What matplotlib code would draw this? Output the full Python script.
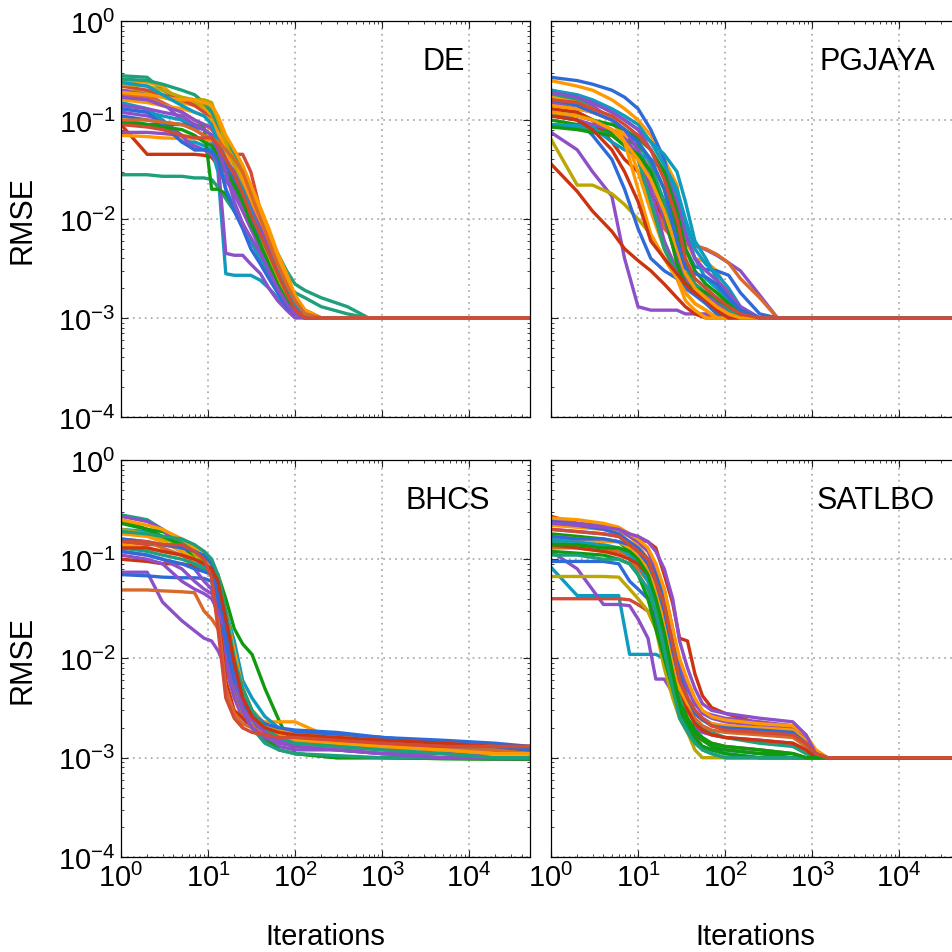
import matplotlib.pyplot as plt
from matplotlib.ticker import LogLocator, NullFormatter

plt.rcParams['font.family'] = ['Liberation Sans', 'DejaVu Sans']
plt.rcParams['mathtext.fontset'] = 'custom'
plt.rcParams['mathtext.rm'] = 'Liberation Sans'
plt.rcParams['mathtext.it'] = 'Liberation Sans:italic'
plt.rcParams['mathtext.bf'] = 'Liberation Sans:bold'

# --- data (iteration grid per panel, one row per run) ---
de_iter = [1, 2, 3, 5, 7, 9, 11, 13, 16, 20, 25, 31, 40, 50, 63, 80, 100, 130, 200, 400, 700, 50000]
de_rmse = [
    [.28, .27, .2, .16, .15, .14, .12, .08, .05, .04, .03, .02, .012, .007, .004, .0025, .0016, .0012, .001, .001, .001, .001],
    [.25, .24, .22, .15, .14, .13, .11, .08, .06, .045, .03, .018, .01, .006, .0035, .0022, .0015, .0012, .001, .001, .001, .001],
    [.2, .19, .17, .15, .15, .14, .13, .09, .06, .04, .025, .015, .009, .005, .003, .0018, .0012, .001, .001, .001, .001, .001],
    [.09, .045, .045, .045, .045, .044, .042, .035, .03, .025, .016, .01, .006, .004, .0025, .0017, .0013, .0011, .001, .001, .001, .001],
    [.028, .028, .027, .027, .026, .026, .025, .021, .016, .012, .009, .006, .004, .003, .0024, .002, .0018, .0016, .0013, .0011, .001, .001],
    [.12, .11, .1, .07, .055, .05, .045, .035, .025, .018, .012, .008, .005, .0035, .0025, .0017, .0012, .001, .001, .001, .001, .001],
    [.15, .13, .1, .06, .06, .055, .05, .03, .0028, .0027, .0027, .0027, .0024, .002, .0016, .0013, .0011, .001, .001, .001, .001, .001],
    [.2, .18, .15, .1, .08, .07, .06, .04, .0045, .0043, .0043, .0035, .0028, .002, .0015, .0012, .001, .001, .001, .001, .001, .001],
    [.1, .09, .09, .09, .09, .085, .02, .02, .018, .013, .009, .006, .004, .003, .002, .0015, .0012, .001, .001, .001, .001, .001],
    [.18, .17, .15, .12, .1, .09, .08, .065, .05, .035, .022, .014, .008, .005, .003, .002, .0014, .0011, .001, .001, .001, .001],
    [.07, .068, .066, .065, .065, .064, .062, .055, .045, .035, .025, .016, .009, .006, .0035, .0022, .0015, .0011, .001, .001, .001, .001],
    [.13, .12, .11, .1, .09, .08, .07, .045, .02, .013, .009, .006, .004, .0028, .002, .0014, .0011, .001, .001, .001, .001, .001],
    [.075, .075, .073, .07, .05, .05, .045, .038, .03, .02, .014, .01, .007, .0045, .003, .002, .0013, .001, .001, .001, .001, .001],
    [.22, .2, .18, .16, .14, .12, .1, .085, .065, .045, .045, .03, .012, .006, .0035, .0022, .0014, .0011, .001, .001, .001, .001],
    [.26, .25, .23, .2, .18, .15, .12, .09, .065, .045, .03, .02, .012, .007, .0045, .003, .0022, .0019, .0016, .0013, .001, .001],
    [.11, .1, .095, .09, .085, .08, .07, .05, .035, .025, .016, .01, .006, .004, .0025, .0017, .0012, .001, .001, .001, .001, .001],
    [.16, .15, .14, .13, .12, .11, .1, .075, .055, .04, .03, .02, .011, .007, .004, .0025, .0016, .0012, .001, .001, .001, .001],
    [.23, .22, .2, .17, .16, .16, .15, .1, .06, .035, .02, .012, .007, .004, .0025, .0015, .0011, .001, .001, .001, .001, .001],
    [.17, .16, .14, .12, .1, .09, .085, .06, .04, .03, .02, .013, .008, .005, .003, .0019, .0013, .001, .001, .001, .001, .001],
    [.19, .18, .17, .16, .16, .15, .14, .11, .07, .05, .035, .022, .013, .008, .0045, .0028, .0017, .0012, .001, .001, .001, .001],
    [.13, .12, .09, .06, .05, .05, .048, .04, .02, .012, .008, .005, .0035, .0025, .0018, .0013, .0011, .001, .001, .001, .001, .001],
    [.095, .09, .085, .08, .07, .06, .055, .045, .03, .022, .015, .009, .0055, .0035, .0022, .0015, .0011, .001, .001, .001, .001, .001],
    [.14, .13, .12, .11, .09, .08, .07, .05, .03, .015, .009, .0065, .0045, .003, .002, .0014, .0011, .001, .001, .001, .001, .001],
    [.24, .22, .18, .14, .12, .11, .09, .06, .04, .028, .02, .012, .007, .0045, .003, .002, .0014, .0011, .001, .001, .001, .001],
    [.1, .1, .095, .09, .08, .07, .065, .06, .05, .04, .03, .018, .01, .006, .0035, .0022, .0015, .0011, .001, .001, .001, .001],
    [.09, .085, .08, .07, .066, .066, .066, .055, .04, .028, .018, .011, .007, .0045, .0028, .0018, .0012, .001, .001, .001, .001, .001],
]
de_colors = "toyrtpcpgnocpetboypobgpcne"

pg_iter = [1, 2, 3, 5, 7, 10, 14, 20, 28, 35, 45, 60, 80, 110, 150, 250, 400, 50000]
pg_rmse = [
    [.25, .22, .2, .16, .13, .1, .07, .04, .022, .006, .004, .0037, .003, .0018, .001, .001, .001, .001],
    [.2, .17, .14, .1, .08, .05, .03, .015, .0063, .006, .0055, .0049, .0043, .0036, .003, .0017, .001, .001],
    [.13, .12, .1, .08, .06, .04, .02, .008, .0058, .0056, .0053, .005, .0044, .0036, .0025, .0016, .001, .001],
    [.075, .05, .03, .017, .004, .0013, .0012, .0012, .0012, .0011, .0011, .0011, .001, .001, .001, .001, .001, .001],
    [.036, .019, .012, .0075, .005, .0038, .003, .0022, .0016, .0013, .0011, .001, .001, .001, .001, .001, .001, .001],
    [.064, .022, .022, .018, .014, .01, .007, .004, .0025, .0018, .0014, .0012, .001, .001, .001, .001, .001, .001],
    [.27, .25, .23, .2, .17, .13, .08, .04, .012, .005, .0033, .0031, .003, .0027, .0018, .0011, .001, .001],
    [.2, .17, .15, .12, .1, .08, .06, .045, .03, .015, .006, .004, .0025, .0016, .0012, .001, .001, .001],
    [.1, .09, .085, .075, .065, .055, .04, .02, .008, .0035, .0022, .0018, .0015, .0012, .001, .001, .001, .001],
    [.18, .16, .13, .1, .08, .06, .035, .015, .005, .003, .0022, .0018, .0014, .0012, .001, .001, .001, .001],
    [.13, .12, .1, .06, .04, .03, .018, .01, .004, .0025, .0018, .0015, .0013, .0011, .001, .001, .001, .001],
    [.15, .13, .12, .1, .08, .05, .02, .006, .003, .0022, .0018, .0015, .0012, .001, .001, .001, .001, .001],
    [.14, .13, .12, .1, .07, .03, .012, .005, .0025, .0015, .0012, .001, .001, .001, .001, .001, .001, .001],
    [.12, .1, .07, .04, .02, .008, .004, .003, .0025, .002, .0017, .0014, .0011, .001, .001, .001, .001, .001],
    [.09, .085, .08, .07, .06, .04, .015, .005, .0028, .0022, .0018, .0016, .0013, .0011, .001, .001, .001, .001],
    [.11, .1, .09, .08, .065, .045, .025, .01, .004, .0025, .002, .0017, .0014, .0011, .001, .001, .001, .001],
    [.09, .088, .085, .06, .05, .045, .04, .03, .018, .008, .004, .0025, .002, .0015, .0011, .001, .001, .001],
    [.085, .08, .075, .07, .055, .045, .03, .012, .0035, .0022, .002, .0018, .0016, .0013, .0011, .001, .001, .001],
    [.17, .15, .13, .1, .06, .02, .007, .004, .0025, .0018, .0014, .0012, .001, .001, .001, .001, .001, .001],
    [.2, .18, .16, .13, .11, .09, .06, .035, .02, .01, .005, .0035, .0028, .002, .0013, .001, .001, .001],
    [.19, .17, .15, .12, .1, .08, .05, .03, .015, .007, .004, .003, .0024, .0018, .0013, .001, .001, .001],
    [.12, .11, .1, .09, .08, .065, .05, .03, .012, .005, .003, .0022, .0018, .0014, .0011, .001, .001, .001],
    [.11, .1, .08, .05, .03, .015, .006, .004, .0028, .0022, .0018, .0015, .0012, .001, .001, .001, .001, .001],
    [.12, .11, .1, .08, .06, .04, .025, .012, .005, .0028, .002, .0016, .0013, .0011, .001, .001, .001, .001],
    [.16, .14, .12, .1, .08, .06, .04, .02, .006, .0032, .0028, .0026, .0022, .0016, .0012, .001, .001, .001],
    [.16, .15, .13, .11, .09, .07, .05, .025, .01, .004, .0025, .002, .0016, .0013, .0011, .001, .001, .001],
]
pg_colors = "opnpryb" + "cgtrpobtpcgo" + "cpgrob" + "e"

bh_iter = [1, 2, 3, 5, 7, 9, 11, 13, 16, 20, 25, 32, 45, 65, 100, 300, 1000, 5000, 20000, 50000]
bh_rmse = [
    [.15, .14, .14, .13, .12, .1, .07, .03, .01, .005, .003, .0025, .002, .0018, .0017, .0016, .0015, .0014, .0013, .0013],
    [.074, .074, .037, .024, .019, .016, .015, .012, .008, .004, .0025, .002, .0017, .0015, .0014, .0013, .0012, .0011, .0011, .0011],
    [.049, .049, .048, .047, .046, .03, .025, .02, .01, .005, .0028, .0022, .0019, .0017, .0015, .0014, .0013, .0012, .0012, .0012],
    [.25, .2, .19, .15, .12, .09, .08, .07, .04, .02, .014, .011, .005, .0024, .0011, .001, .001, .00098, .00097, .00097],
    [.28, .25, .2, .15, .12, .1, .08, .04, .015, .007, .004, .003, .0022, .0019, .0018, .0017, .0016, .0014, .0012, .0011],
    [.07, .068, .066, .065, .065, .064, .06, .03, .012, .006, .0035, .0025, .002, .0018, .0017, .0016, .0015, .0013, .0012, .0012],
    [.14, .13, .12, .11, .1, .09, .075, .035, .02, .008, .004, .0023, .0023, .0023, .0023, .0015, .0013, .0012, .0011, .0011],
    [.27, .24, .2, .12, .08, .06, .05, .025, .01, .005, .003, .002, .0015, .0013, .0012, .0012, .0011, .0011, .001, .001],
    [.1, .095, .09, .09, .085, .08, .07, .03, .006, .003, .0025, .002, .0018, .0016, .0015, .0014, .0013, .0013, .0012, .0012],
    [.2, .19, .15, .12, .1, .085, .08, .06, .03, .015, .006, .004, .0026, .002, .0018, .0016, .0014, .0013, .0012, .0011],
    [.2, .18, .16, .14, .11, .1, .09, .05, .02, .006, .0032, .0025, .002, .0017, .0015, .0014, .0013, .0012, .0011, .0011],
    [.23, .2, .17, .14, .1, .09, .085, .05, .02, .008, .004, .0025, .0016, .0012, .0011, .001, .001, .00098, .00097, .00096],
    [.16, .15, .13, .11, .09, .08, .07, .025, .005, .0028, .0022, .002, .0018, .0016, .0015, .0014, .0013, .0012, .0012, .0011],
    [.12, .11, .1, .08, .06, .05, .045, .035, .015, .006, .0035, .0024, .0018, .0015, .0013, .0012, .0011, .001, .001, .001],
    [.13, .12, .11, .1, .09, .08, .07, .045, .02, .007, .003, .002, .0014, .0012, .0011, .00105, .001, .001, .001, .001],
    [.12, .11, .1, .09, .08, .075, .07, .04, .015, .006, .0035, .0027, .0022, .0019, .0018, .0017, .0016, .0014, .0013, .0012],
    [.18, .17, .15, .12, .1, .09, .085, .07, .025, .01, .005, .003, .0022, .0019, .0017, .0016, .0015, .0014, .0013, .0013],
    [.25, .22, .2, .16, .13, .12, .1, .06, .03, .012, .005, .003, .002, .0017, .0015, .0014, .0013, .0012, .0011, .0011],
    [.11, .1, .09, .06, .05, .045, .04, .03, .02, .008, .003, .002, .0016, .0014, .0013, .0012, .0011, .001, .00098, .00098],
    [.16, .15, .14, .13, .12, .11, .09, .05, .02, .008, .004, .0028, .0022, .002, .0019, .0018, .0016, .0015, .0014, .0013],
    [.19, .18, .17, .16, .14, .12, .1, .07, .03, .01, .005, .003, .002, .0016, .0014, .0013, .0012, .0011, .001, .001],
    [.13, .13, .12, .11, .1, .09, .08, .06, .025, .009, .004, .0026, .002, .0018, .0017, .0016, .0015, .0014, .0013, .0013],
    [.15, .15, .14, .14, .12, .1, .065, .02, .004, .0025, .002, .0018, .0017, .0016, .0016, .0015, .0014, .0013, .0013, .0013],
]
bh_colors = "epngtboprcygnptbo" + "opbtr" + "e"

sa_iter = [1, 2, 4, 6, 8, 10, 13, 16, 20, 25, 30, 37, 45, 55, 70, 100, 250, 600, 850, 1100, 1500, 50000]
sa_rmse = [
    [.27, .23, .21, .2, .17, .16, .15, .13, .07, .036, .016, .015, .007, .0042, .0032, .0028, .0022, .0019, .0015, .0011, .001, .001],
    [.2, .19, .18, .17, .14, .12, .08, .05, .03, .015, .008, .005, .0035, .0029, .0027, .0025, .0023, .0021, .0014, .00105, .001, .001],
    [.083, .043, .043, .043, .011, .011, .011, .011, .01, .005, .003, .0022, .0016, .0013, .0012, .0011, .001, .001, .001, .001, .001, .001],
    [.12, .08, .035, .035, .034, .025, .016, .0062, .0062, .0045, .003, .0024, .002, .0018, .0017, .0016, .0015, .0014, .0012, .001, .001, .001],
    [.04, .04, .04, .04, .039, .035, .03, .02, .01, .005, .0028, .002, .0017, .0015, .0014, .0013, .0012, .0011, .001, .001, .001, .001],
    [.067, .067, .067, .066, .05, .04, .03, .02, .008, .004, .0025, .0018, .0012, .001, .001, .001, .001, .001, .001, .001, .001, .001],
    [.095, .095, .095, .09, .06, .05, .04, .025, .012, .006, .0035, .0022, .0015, .0013, .0012, .0012, .0011, .001, .001, .001, .001, .001],
    [.22, .21, .2, .19, .17, .14, .1, .06, .03, .012, .006, .004, .0028, .0024, .0022, .0021, .002, .0019, .0016, .0012, .001, .001],
    [.18, .17, .16, .15, .12, .1, .08, .05, .02, .008, .004, .0025, .0018, .0015, .0013, .0012, .0011, .0011, .001, .001, .001, .001],
    [.15, .14, .13, .12, .1, .07, .05, .03, .015, .007, .004, .003, .0024, .002, .0018, .0016, .0014, .0013, .0011, .001, .001, .001],
    [.13, .13, .12, .12, .1, .08, .06, .04, .02, .009, .005, .0035, .0025, .0021, .0019, .0018, .0017, .0016, .0013, .001, .001, .001],
    [.25, .23, .22, .2, .17, .15, .12, .08, .05, .02, .008, .005, .0035, .0028, .0025, .0023, .0021, .002, .0016, .0011, .001, .001],
    [.24, .22, .2, .18, .15, .13, .1, .07, .04, .015, .007, .004, .003, .0025, .0022, .002, .0019, .0018, .0015, .0011, .001, .001],
    [.16, .15, .14, .13, .11, .09, .06, .035, .015, .006, .003, .002, .0015, .0012, .0011, .001, .001, .001, .001, .001, .001, .001],
    [.26, .25, .23, .21, .18, .16, .13, .09, .05, .02, .01, .006, .004, .003, .0026, .0024, .0022, .0021, .0017, .0012, .001, .001],
    [.12, .115, .11, .1, .09, .07, .04, .02, .01, .005, .003, .0022, .0016, .0013, .0012, .0011, .001, .001, .001, .001, .001, .001],
    [.14, .13, .12, .11, .1, .09, .07, .045, .025, .01, .005, .003, .0022, .0019, .0017, .0016, .0015, .0014, .0012, .001, .001, .001],
    [.17, .16, .15, .15, .13, .11, .08, .05, .025, .01, .005, .0035, .0028, .0024, .0022, .0021, .002, .0019, .0015, .0011, .001, .001],
    [.11, .11, .1, .1, .09, .07, .05, .03, .012, .005, .0025, .0018, .0014, .0012, .0011, .001, .001, .001, .001, .001, .001, .001],
    [.23, .22, .21, .2, .18, .17, .15, .12, .08, .04, .015, .008, .005, .0035, .003, .0028, .0025, .0023, .0017, .0011, .001, .001],
    [.17, .16, .16, .15, .14, .12, .09, .06, .03, .012, .006, .004, .0028, .0024, .0021, .002, .0019, .0018, .0014, .0011, .001, .001],
    [.14, .14, .13, .13, .12, .1, .07, .04, .018, .007, .0035, .0025, .0019, .0016, .0014, .0013, .0012, .0011, .001, .001, .001, .001],
    [.2, .19, .18, .17, .14, .12, .1, .06, .035, .014, .006, .004, .003, .0025, .0021, .0019, .0018, .0017, .0014, .0011, .001, .001],
]
sa_colors = "rpcpeybogtnpbcogr" + "otpbg" + "e"

palette = {
    'b': '#2f6bd8', 'o': '#ff9900', 'r': '#cc3311', 'p': '#8e50c8', 'g': '#109a10',
    't': '#1fa07c', 'c': '#0f9bbf', 'y': '#bca700', 'n': '#d9692a', 'e': '#d14b35',
}

panels = [
    ("DE", de_iter, de_rmse, de_colors, [0.1271, 0.5614, 0.4296, 0.4155], (0.79, 0.90)),
    ("PGJAYA", pg_iter, pg_rmse, pg_colors, [0.5788, 0.5614, 0.4296, 0.4155], (0.797, 0.90)),
    ("BHCS", bh_iter, bh_rmse, bh_colors, [0.1271, 0.0997, 0.4296, 0.4166], (0.80, 0.90)),
    ("SATLBO", sa_iter, sa_rmse, sa_colors, [0.5788, 0.0997, 0.4296, 0.4166], (0.795, 0.90)),
]

fig = plt.figure(figsize=(9.52, 9.53), dpi=100)

for k, (name, iters, runs, cols, pos, txt) in enumerate(panels):
    assert len(runs) == len(cols)
    ax = fig.add_axes(pos)
    for run, ck in zip(runs, cols):
        assert len(run) == len(iters)
        ax.plot(iters, run, color=palette[ck], linewidth=2.4)
    ax.set_xscale('log')
    ax.set_yscale('log')
    ax.set_xlim(1, 5e4)
    ax.set_ylim(1e-4, 1)
    for axis in (ax.xaxis, ax.yaxis):
        axis.set_major_locator(LogLocator(base=10, numticks=20))
        axis.set_minor_locator(LogLocator(base=10, subs=(2, 3, 4, 5, 6, 7, 8, 9), numticks=100))
        axis.set_minor_formatter(NullFormatter())
    ax.grid(True, which='major', color='#b0b0b0', linestyle=(0, (1, 2.3)), linewidth=1.3)
    ax.tick_params(which='both', direction='in', top=True, right=True, color='#222222')
    ax.tick_params(which='major', length=5, width=0.8, labelsize=21, pad=4)
    ax.tick_params(which='minor', length=2.5, width=0.6)
    for s in ax.spines.values():
        s.set_linewidth(0.9)
    ax.text(txt[0], txt[1], name, transform=ax.transAxes, ha='center', va='center', fontsize=22)
    if k % 2 == 0:
        ax.set_ylabel('RMSE', fontsize=22)
        ax.yaxis.set_label_coords(-0.205, 0.5)
    else:
        ax.tick_params(labelleft=False)
    if k >= 2:
        ax.set_xlabel('Iterations', fontsize=21)
        ax.xaxis.set_label_coords(0.5, -0.163)
    else:
        ax.tick_params(labelbottom=False)

fig.savefig('out.png', dpi=100)
